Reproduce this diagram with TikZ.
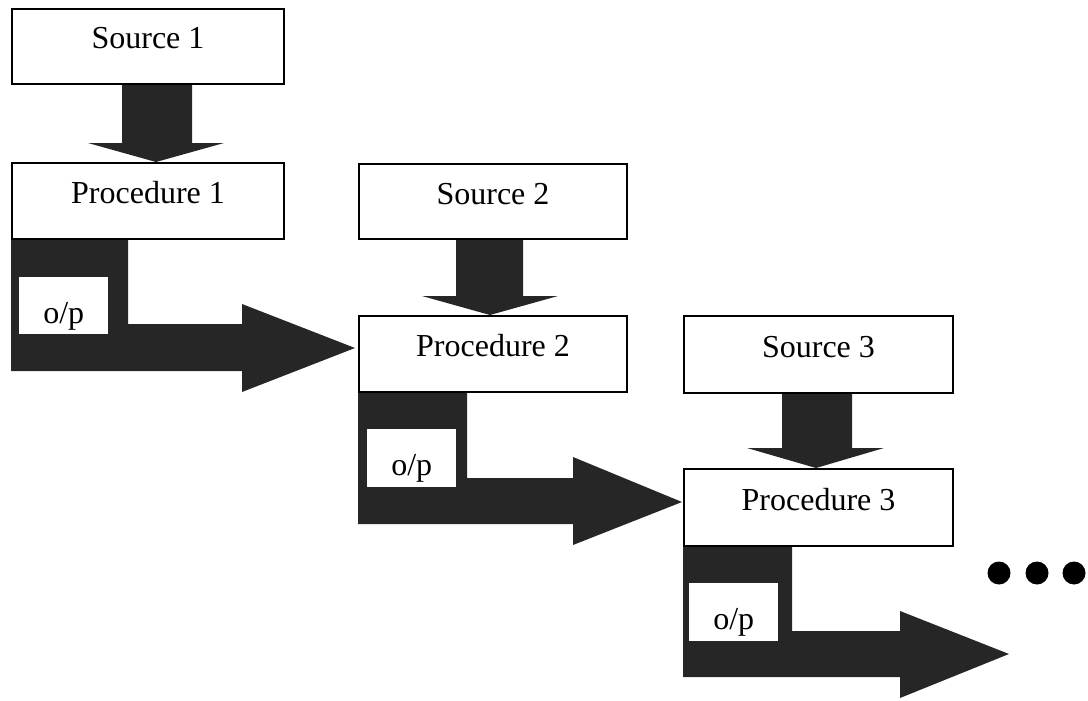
\documentclass[tikz,border=0pt]{standalone}
\usepackage{fontspec}
\setmainfont{Liberation Serif}
\begin{document}
\begin{tikzpicture}[x=1pt,y=-1pt,
  box/.style={draw=black,line width=2pt,fill=white,rectangle,anchor=north west,
    inner sep=0pt,font=\fontsize{32}{36}\selectfont,text height=22pt,text depth=17pt},
  opbox/.style={fill=white,rectangle,anchor=north west,inner sep=0pt,
    font=\fontsize{32}{36}\selectfont,text height=40pt,text depth=5pt},
  flow/.style={fill=black!85,draw=none},
  dot/.style={circle,fill=black,inner sep=0pt,minimum size=23pt}]
\useasboundingbox (0,0) rectangle (1088,701);

% output arrows of the procedures (drawn first, boxes on top)
\fill[flow] (11,238) -- (128,238) -- (128,324) -- (242,324) -- (242,304)
  -- (355,348) -- (242,392) -- (242,371) -- (11,371) -- cycle;
\fill[flow] (358,391) -- (467,391) -- (467,478) -- (573,478) -- (573,457)
  -- (682,502) -- (573,545) -- (573,524) -- (358,524) -- cycle;
\fill[flow] (683,545) -- (792,545) -- (792,631) -- (900,631) -- (900,611)
  -- (1009,654) -- (900,698) -- (900,677) -- (683,677) -- cycle;

% input arrows from the sources
\fill[flow] (122,83) -- (192,83) -- (192,143) -- (224,143) -- (156,162)
  -- (88,143) -- (122,143) -- cycle;
\fill[flow] (456,238) -- (523,238) -- (523,296) -- (558,296) -- (490,315)
  -- (422,296) -- (456,296) -- cycle;
\fill[flow] (782,391) -- (852,391) -- (852,448) -- (884,448) -- (816,468)
  -- (747,448) -- (782,448) -- cycle;

% sources and procedures
\node[box,minimum width=272pt,minimum height=75pt] (s1) at (11,8) {Source 1};
\node[box,minimum width=272pt,minimum height=76pt] (p1) at (11,162) {Procedure 1};
\node[box,minimum width=268pt,minimum height=75pt] (s2) at (358,163) {Source 2};
\node[box,minimum width=268pt,minimum height=76pt] (p2) at (358,315) {Procedure 2};
\node[box,minimum width=269pt,minimum height=77pt] (s3) at (683,315) {Source 3};
\node[box,minimum width=269pt,minimum height=77pt] (p3) at (683,468) {Procedure 3};

% output labels
\node[opbox,minimum width=89pt,minimum height=57pt] (o1) at (19,277) {o/p};
\node[opbox,minimum width=89pt,minimum height=58pt] (o2) at (367,429) {o/p};
\node[opbox,minimum width=89pt,minimum height=58pt] (o3) at (689,583) {o/p};

% continuation dots
\node[dot] (d1) at (999,573) {};
\node[dot] (d2) at (1037,573) {};
\node[dot] (d3) at (1074,573) {};
\end{tikzpicture}
\end{document}
